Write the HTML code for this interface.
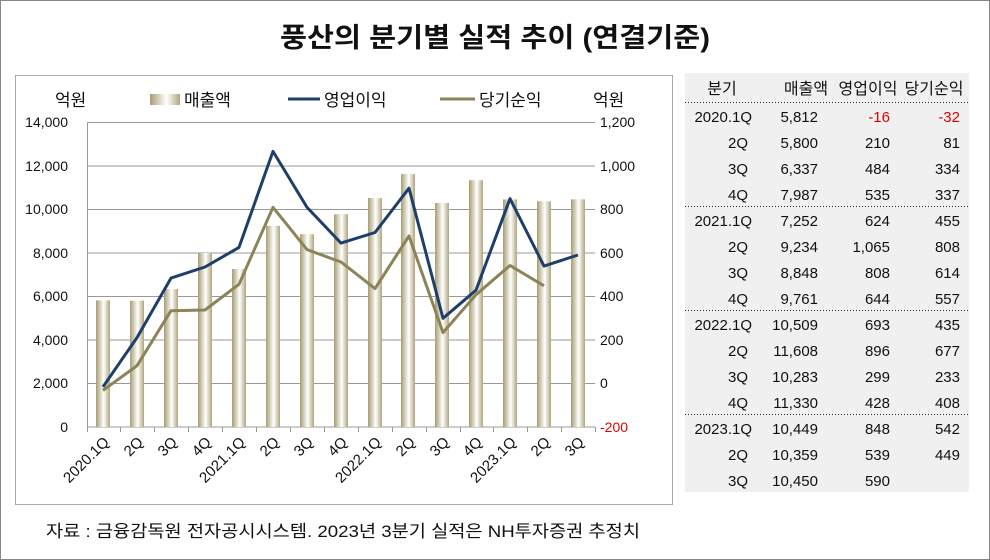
<!DOCTYPE html>
<html><head><meta charset="utf-8"><style>
body{margin:0;background:#fff;}
svg{display:block;font-family:"Liberation Sans","Noto Sans CJK KR",sans-serif;}
</style></head><body>
<svg width="990" height="560" viewBox="0 0 990 560">
<defs>
<linearGradient id="bg" x1="0" x2="1" y1="0" y2="0">
<stop offset="0" stop-color="#a79c72"/><stop offset="0.55" stop-color="#ffffff"/><stop offset="1" stop-color="#b0a67e"/>
</linearGradient>
</defs>
<rect x="0.5" y="0.5" width="989" height="559" fill="#fff" stroke="#888"/>
<text x="280" y="47" font-size="27" font-weight="bold" fill="#111" textLength="430" lengthAdjust="spacingAndGlyphs">풍산의 분기별 실적 추이 (연결기준)</text>
<rect x="15.5" y="75.5" width="657" height="429" fill="#fff" stroke="#aaa"/>
<g font-size="17" fill="#111">
<text x="55" y="106">억원</text>
<rect x="150" y="94" width="30" height="11" fill="url(#bg)"/>
<text x="184" y="106">매출액</text>
<line x1="288" y1="99" x2="320" y2="99" stroke="#1f3f6a" stroke-width="3"/>
<text x="324" y="106">영업이익</text>
<line x1="440" y1="99" x2="475" y2="99" stroke="#8c8358" stroke-width="3"/>
<text x="479" y="106">당기순익</text>
<text x="593" y="106">억원</text>
</g>
<g stroke="#999" stroke-width="1">
<line x1="88" y1="122.5" x2="595" y2="122.5"/><line x1="88" y1="166" x2="595" y2="166"/>
<line x1="88" y1="209.5" x2="595" y2="209.5"/><line x1="88" y1="253" x2="595" y2="253"/>
<line x1="88" y1="296.5" x2="595" y2="296.5"/><line x1="88" y1="340" x2="595" y2="340"/>
<line x1="88" y1="383.5" x2="595" y2="383.5"/><line x1="88" y1="427" x2="595" y2="427"/>
<line x1="87.5" y1="122" x2="87.5" y2="427"/>
<path d="M87.5 427v5M120.5 427v5M154.5 427v5M188.5 427v5M222.5 427v5M256.5 427v5M290.5 427v5M324.5 427v5M358.5 427v5M392.5 427v5M426.5 427v5M460.5 427v5M493.5 427v5M527.5 427v5M561.5 427v5M595.5 427v5"/>
</g>
<g font-size="14" fill="#111" text-anchor="end">
<text x="68" y="127">14,000</text><text x="68" y="171">12,000</text><text x="68" y="214">10,000</text>
<text x="68" y="258">8,000</text><text x="68" y="301">6,000</text><text x="68" y="345">4,000</text>
<text x="68" y="388">2,000</text><text x="68" y="432">0</text>
</g>
<g font-size="14" fill="#111" text-anchor="start">
<text x="600" y="127">1,200</text><text x="600" y="171">1,000</text><text x="600" y="214">800</text>
<text x="600" y="258">600</text><text x="600" y="301">400</text><text x="600" y="345">200</text>
<text x="600" y="388">0</text><text x="600" y="432" fill="#e00000">-200</text>
</g>
<g fill="url(#bg)">
<rect x="96" y="300.4" width="14" height="126.6"/>
<rect x="130" y="300.6" width="14" height="126.4"/>
<rect x="164" y="289" width="14" height="138"/>
<rect x="198" y="253" width="14" height="174"/>
<rect x="232" y="269" width="14" height="158"/>
<rect x="266" y="225.8" width="14" height="201.2"/>
<rect x="300" y="234.2" width="14" height="192.8"/>
<rect x="334" y="214.3" width="14" height="212.7"/>
<rect x="368" y="198" width="14" height="229"/>
<rect x="401" y="174.1" width="14" height="252.9"/>
<rect x="435" y="203" width="14" height="224"/>
<rect x="469" y="180.2" width="14" height="246.8"/>
<rect x="503" y="199.4" width="14" height="227.6"/>
<rect x="537" y="201.3" width="14" height="225.7"/>
<rect x="571" y="199.3" width="14" height="227.7"/>
</g>
<polyline fill="none" stroke="#1f3f6a" stroke-width="3" stroke-linejoin="round" points="103,386.9 137,337.6 171,278.1 205,267 239,247.4 273,151.4 307,207.3 341,243.1 375,232.5 409,188.2 443,318.3 476,290.2 510,198.7 544,266.1 578,255"/>
<polyline fill="none" stroke="#8c8358" stroke-width="3" stroke-linejoin="round" points="103,390.4 137,365.7 171,310.7 205,310.0 239,284.3 273,207.3 307,249.6 341,262.0 375,288.6 409,236.0 443,332.6 476,294.7 510,265.5 544,285.8"/>
<g font-size="15" fill="#111" text-anchor="end">
<text transform="translate(110,443) rotate(-45)">2020.1Q</text>
<text transform="translate(144,443) rotate(-45)">2Q</text>
<text transform="translate(178,443) rotate(-45)">3Q</text>
<text transform="translate(212,443) rotate(-45)">4Q</text>
<text transform="translate(246,443) rotate(-45)">2021.1Q</text>
<text transform="translate(280,443) rotate(-45)">2Q</text>
<text transform="translate(314,443) rotate(-45)">3Q</text>
<text transform="translate(348,443) rotate(-45)">4Q</text>
<text transform="translate(382,443) rotate(-45)">2022.1Q</text>
<text transform="translate(416,443) rotate(-45)">2Q</text>
<text transform="translate(450,443) rotate(-45)">3Q</text>
<text transform="translate(483,443) rotate(-45)">4Q</text>
<text transform="translate(517,443) rotate(-45)">2023.1Q</text>
<text transform="translate(551,443) rotate(-45)">2Q</text>
<text transform="translate(585,443) rotate(-45)">3Q</text>
</g>
<rect x="685" y="73" width="284" height="419" fill="#f0f0f0"/>
<g stroke="#222" stroke-width="1" stroke-dasharray="1,2">
<line x1="685" y1="102.5" x2="969" y2="102.5"/><line x1="685" y1="206.5" x2="969" y2="206.5"/>
<line x1="685" y1="310.5" x2="969" y2="310.5"/><line x1="685" y1="414.5" x2="969" y2="414.5"/>
</g>
<g font-size="16" fill="#111" text-anchor="middle">
<text x="722" y="94">분기</text><text x="806" y="94">매출액</text><text x="868" y="94">영업이익</text><text x="934" y="94">당기순익</text>
</g>
<g font-size="15" fill="#111" text-anchor="end">
<text x="752" y="122">2020.1Q</text><text x="818" y="122">5,812</text><text x="890" y="122" fill="#e00000">-16</text><text x="960" y="122" fill="#e00000">-32</text>
<text x="748" y="148">2Q</text><text x="818" y="148">5,800</text><text x="890" y="148">210</text><text x="960" y="148">81</text>
<text x="748" y="174">3Q</text><text x="818" y="174">6,337</text><text x="890" y="174">484</text><text x="960" y="174">334</text>
<text x="748" y="200">4Q</text><text x="818" y="200">7,987</text><text x="890" y="200">535</text><text x="960" y="200">337</text>
<text x="752" y="226">2021.1Q</text><text x="818" y="226">7,252</text><text x="890" y="226">624</text><text x="960" y="226">455</text>
<text x="748" y="252">2Q</text><text x="818" y="252">9,234</text><text x="890" y="252">1,065</text><text x="960" y="252">808</text>
<text x="748" y="278">3Q</text><text x="818" y="278">8,848</text><text x="890" y="278">808</text><text x="960" y="278">614</text>
<text x="748" y="304">4Q</text><text x="818" y="304">9,761</text><text x="890" y="304">644</text><text x="960" y="304">557</text>
<text x="752" y="330">2022.1Q</text><text x="818" y="330">10,509</text><text x="890" y="330">693</text><text x="960" y="330">435</text>
<text x="748" y="356">2Q</text><text x="818" y="356">11,608</text><text x="890" y="356">896</text><text x="960" y="356">677</text>
<text x="748" y="382">3Q</text><text x="818" y="382">10,283</text><text x="890" y="382">299</text><text x="960" y="382">233</text>
<text x="748" y="408">4Q</text><text x="818" y="408">11,330</text><text x="890" y="408">428</text><text x="960" y="408">408</text>
<text x="752" y="434">2023.1Q</text><text x="818" y="434">10,449</text><text x="890" y="434">848</text><text x="960" y="434">542</text>
<text x="748" y="460">2Q</text><text x="818" y="460">10,359</text><text x="890" y="460">539</text><text x="960" y="460">449</text>
<text x="748" y="486">3Q</text><text x="818" y="486">10,450</text><text x="890" y="486">590</text>
</g>
<text x="46" y="537" font-size="17" fill="#111" textLength="594" lengthAdjust="spacingAndGlyphs">자료 : 금융감독원 전자공시시스템. 2023년 3분기 실적은 NH투자증권 추정치</text>
</svg>
</body></html>
